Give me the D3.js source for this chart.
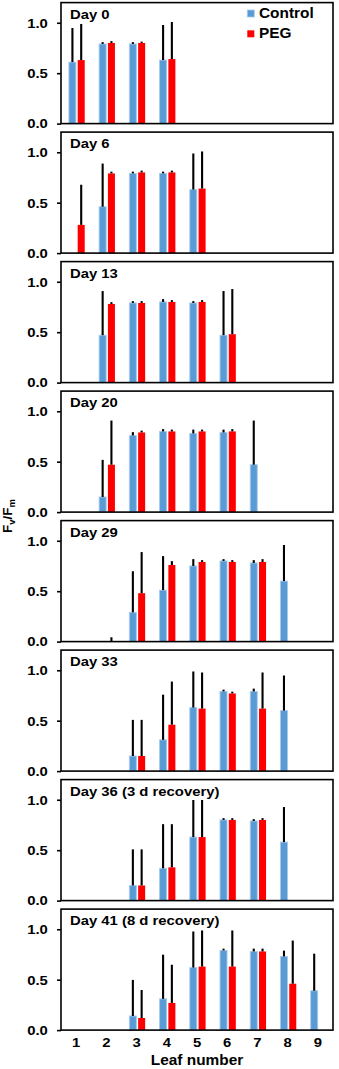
<!DOCTYPE html>
<html><head><meta charset="utf-8">
<script src="https://cdn.jsdelivr.net/npm/d3@7"></script>
<style>body{margin:0;background:#fff}svg{display:block}text{font-family:"Liberation Sans",Arial,sans-serif;font-weight:bold;fill:#000}</style>
</head><body>
<svg id="c" width="339" height="1069"></svg>
<script>
const leaves = [1,2,3,4,5,6,7,8,9];
const dayLabels = ["Day 0","Day 6","Day 13","Day 20","Day 29","Day 33","Day 36 (3 d recovery)","Day 41 (8 d recovery)"];
const yTicks = [0, 0.5, 1.0];
const seriesNames = ["Control","PEG"];
const N = null;
const controlMean = [
 [0.61,0.79,0.79,0.63,N,N,N,N,N],
 [N,0.46,0.79,0.79,0.63,N,N,N,N],
 [N,0.47,0.79,0.80,0.79,0.47,N,N,N],
 [N,0.15,0.76,0.80,0.78,0.79,0.47,N,N],
 [N,N,0.29,0.51,0.75,0.80,0.78,0.60,N],
 [N,N,0.15,0.31,0.63,0.79,0.79,0.60,N],
 [N,N,0.15,0.32,0.63,0.80,0.79,0.58,N],
 [N,N,0.14,0.31,0.62,0.79,0.78,0.73,0.39]
];
const controlErr = [
 [0.33,0.01,0.01,0.34,N,N,N,N,N],
 [N,0.42,0.01,0.01,0.35,N,N,N,N],
 [N,0.43,0.01,0.02,0.01,0.43,N,N,N],
 [N,0.36,0.025,0.015,0.03,0.02,0.43,N,N],
 [N,N,0.40,0.33,0.06,0.01,0.02,0.35,N],
 [N,N,0.35,0.44,0.35,0.01,0.02,0.34,N],
 [N,N,0.35,0.43,0.36,0.01,0.01,0.34,N],
 [N,N,0.35,0.43,0.35,0.01,0.02,0.05,0.36]
];
const pegMean = [
 [0.63,0.80,0.80,0.64,N,N,N,N,N],
 [0.28,0.79,0.80,0.80,0.64,N,N,N,N],
 [N,0.78,0.79,0.80,0.80,0.48,N,N,N],
 [N,0.47,0.79,0.80,0.80,0.80,N,N,N],
 [N,0.005,0.48,0.76,0.79,0.79,0.79,N,N],
 [N,N,0.15,0.46,0.62,0.77,0.62,N,N],
 [N,N,0.15,0.33,0.63,0.80,0.80,N,N],
 [N,N,0.12,0.27,0.63,0.63,0.78,0.46,N]
];
const pegErr = [
 [0.35,0.01,0.005,0.36,N,N,N,N,N],
 [0.39,0.01,0.01,0.01,0.36,N,N,N,N],
 [N,0.01,0.01,0.01,0.01,0.44,N,N,N],
 [N,0.43,0.01,0.01,0.01,0.015,N,N,N],
 [N,0.03,0.40,0.03,0.01,0.01,0.02,N,N],
 [N,N,0.35,0.42,0.35,0.01,0.35,N,N],
 [N,N,0.35,0.42,0.36,0.01,0.01,N,N],
 [N,N,0.27,0.37,0.35,0.35,0.02,0.42,N]
];
const colors = {Control:"#5b9bd5", PEG:"#ff0000"};

const svg = d3.select("#c");
svg.append("rect").attr("width",339).attr("height",1069).attr("fill","#fff");
const left = 61, right = 333;
const firstZero = 123.6, step = 129.5, plotH = 121;
const sx = 1.1;

const x = d3.scaleBand().domain(leaves).range([left,right]).paddingInner(0).paddingOuter(0);
const bw = x.bandwidth();
const xi = d3.scaleBand().domain(seriesNames).range([bw/2-7.2, bw/2+8.6]).paddingInner(0.2);

dayLabels.forEach((lab,i)=>{
  const zero = firstZero + step*i;
  const top = zero - plotH;
  const y = d3.scaleLinear().domain([0,1.2]).range([zero, top]);
  const g = svg.append("g");
  const data = [];
  leaves.forEach((l,j)=>{
    if(controlMean[i][j]!=null) data.push({leaf:l,s:"Control",v:controlMean[i][j],e:controlErr[i][j]});
    if(pegMean[i][j]!=null) data.push({leaf:l,s:"PEG",v:pegMean[i][j],e:pegErr[i][j]});
  });
  g.selectAll("rect.bar").data(data).join("rect").attr("class","bar")
    .attr("x",d=>x(d.leaf)+xi(d.s)).attr("width",xi.bandwidth())
    .attr("y",d=>y(d.v)).attr("height",d=>zero-y(d.v))
    .attr("fill",d=>colors[d.s])
    .attr("stroke",d=>d.s==="Control"?"#a6cbee":"none").attr("stroke-width",0.9);
  g.selectAll("line.err").data(data).join("line").attr("class","err")
    .attr("x1",d=>x(d.leaf)+xi(d.s)+xi.bandwidth()/2).attr("x2",d=>x(d.leaf)+xi(d.s)+xi.bandwidth()/2)
    .attr("y1",d=>y(d.v)).attr("y2",d=>y(d.v+d.e)-0.8)
    .attr("stroke","#000").attr("stroke-width",2.1);
  // frame
  g.append("rect").attr("x",left).attr("y",top).attr("width",right-left).attr("height",zero-top)
    .attr("fill","none").attr("stroke","#000").attr("stroke-width",1.6);
  const ax = g.append("g").attr("transform",`translate(${left},0)`)
    .call(d3.axisLeft(y).tickValues(yTicks).tickFormat(d3.format(".1f")).tickSize(4).tickPadding(8).tickSizeOuter(0));
  ax.select(".domain").remove();
  ax.selectAll(".tick line").attr("stroke","#000").attr("stroke-width",1.6);
  ax.selectAll(".tick text").attr("font-size",13.5).attr("font-family",null)
    .attr("transform",`scale(${sx},1)`);
  g.append("text").attr("transform",`translate(70,${top+16}) scale(${sx},1)`)
    .attr("font-size",13.5).text(lab);
  if(i===0){
    seriesNames.forEach((s,k)=>{
      g.append("rect").attr("x",247.3).attr("y",top+7.4+k*20.3).attr("width",7).attr("height",7)
        .attr("fill",colors[s]).attr("stroke",s==="Control"?"#a6cbee":"none").attr("stroke-width",0.8);
      g.append("text").attr("transform",`translate(259,${top+15.2+k*20.3}) scale(${sx},1)`)
        .attr("font-size",14).text(s);
    });
  }
  if(i===dayLabels.length-1){
    const xa = g.append("g").attr("transform",`translate(0,${zero})`)
      .call(d3.axisBottom(x).tickSize(0).tickPadding(0));
    xa.select(".domain").remove();
    xa.selectAll(".tick text").attr("font-size",13.5).attr("font-family",null)
      .attr("dy",null).attr("y",16.8).attr("transform",`scale(${sx},1)`);
    g.append("text").attr("transform",`translate(${(left+right)/2},${zero+35}) scale(${sx},1)`)
      .attr("text-anchor","middle").attr("font-size",14).text("Leaf number");
  }
});
// y label
const yl = svg.append("text").attr("transform","translate(12,516) rotate(-90)")
  .attr("text-anchor","middle").attr("font-size",13.5);
yl.append("tspan").text("F");
yl.append("tspan").attr("font-size",9.5).attr("dy",3).text("v");
yl.append("tspan").attr("dy",-3).text("/F");
yl.append("tspan").attr("font-size",9.5).attr("dy",3).text("m");
</script>
</body></html>
